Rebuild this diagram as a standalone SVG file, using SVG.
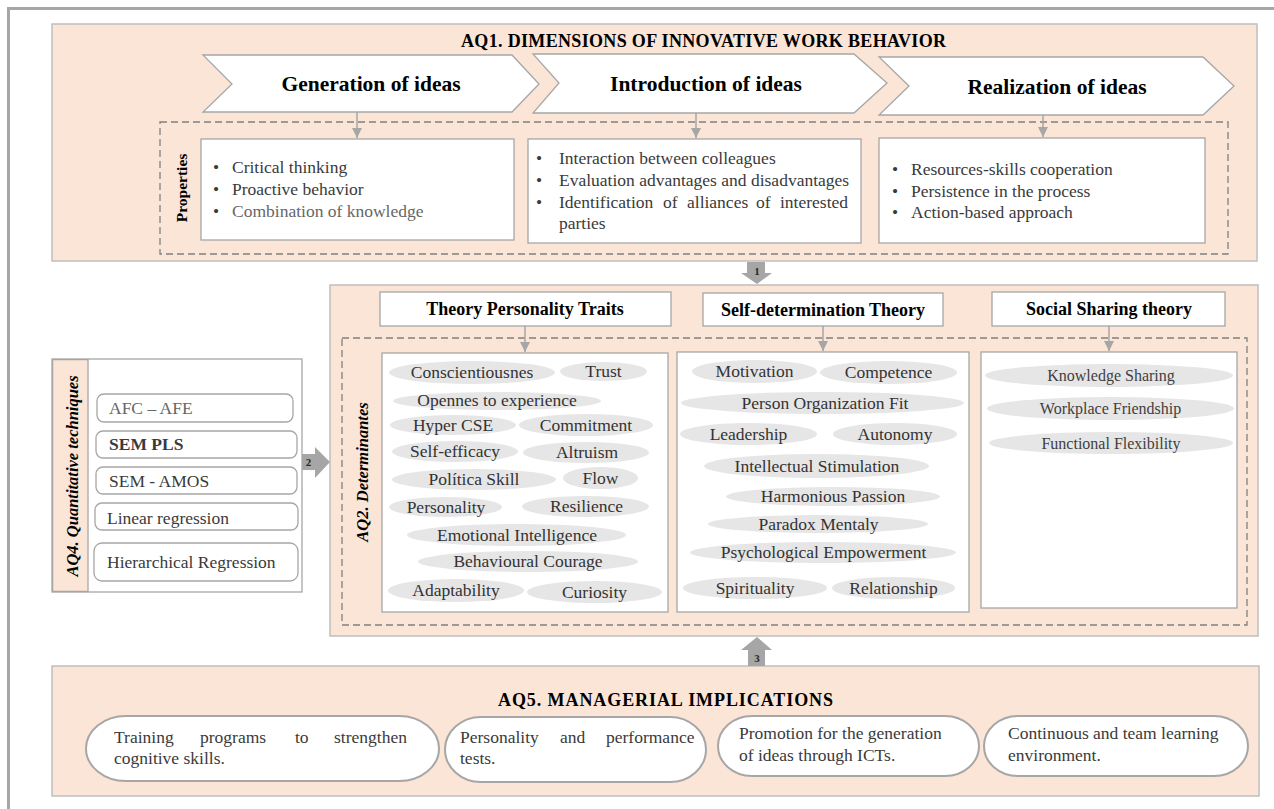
<svg xmlns="http://www.w3.org/2000/svg" width="1274" height="809" viewBox="0 0 1274 809">
<defs>
<style>
text{font-family:"Liberation Serif","Times New Roman",serif;}
.frame{stroke:#a6a6a6;stroke-width:3;fill:none}
.panel{fill:#fbe5d6;stroke:#bfbfbf;stroke-width:1.5}
.box{fill:#fff;stroke:#a6a6a6;stroke-width:1.3}
.dash{fill:none;stroke:#808080;stroke-width:1.3;stroke-dasharray:7 4}
.chev{fill:#fff;stroke:#a6a6a6;stroke-width:1.3}
.title{font-size:18px;font-weight:bold;fill:#000}
.chevt{font-size:21.5px;font-weight:bold;fill:#000;text-anchor:middle}
.body{font-size:17.5px;fill:#3a3a3a}
.light{fill:#666}
.pill{fill:#e7e6e6}
.pt{font-size:17.5px;fill:#333;text-anchor:middle}
.pts{font-size:16px;fill:#404040;text-anchor:middle}
.hdr{font-size:18px;font-weight:bold;fill:#000;text-anchor:middle}
.vt{font-size:16.5px;font-weight:bold;font-style:italic;fill:#000;text-anchor:middle}
.vp{font-size:15.5px;font-weight:bold;fill:#000;text-anchor:middle}
.item{fill:#fff;stroke:#a6a6a6;stroke-width:1.3}
.blk{fill:#a6a6a6}
.num{font-size:11px;font-weight:bold;fill:#262626;text-anchor:middle}
.conn{stroke:#a6a6a6;stroke-width:1.5;fill:none}
.imp{fill:#fff;stroke:#a6a6a6;stroke-width:2}
</style>
<marker id="ah" markerWidth="10" markerHeight="10" refX="10" refY="5" orient="auto" markerUnits="userSpaceOnUse"><path d="M0,0 L10,5 L0,10 z" fill="#a6a6a6"/></marker>
</defs>

<g id="frame">
<path class="frame" d="M8.5,809 V8.5 H1274"/>
</g>

<g id="aq1">
<rect class="panel" x="52" y="24" width="1205" height="237"/>
<text class="title" x="461" y="47" textLength="485" lengthAdjust="spacing">AQ1. DIMENSIONS OF INNOVATIVE WORK BEHAVIOR</text>
<rect class="dash" x="160" y="122" width="1068" height="132"/>
<text class="vp" transform="translate(187,188) rotate(-90)">Properties</text>
</g>

<g id="chev-generation">
<polygon class="chev" points="203,55 512,55 539,84 512,112 203,112 232,84"/>
<text class="chevt" x="371" y="91">Generation of ideas</text>
</g>
<g id="chev-introduction">
<polygon class="chev" points="533,54 854,54 887,83 854,113 533,113 559,83"/>
<text class="chevt" x="706" y="91">Introduction of ideas</text>
</g>
<g id="chev-realization">
<polygon class="chev" points="879,57 1203,57 1234,86 1203,115 879,115 909,86"/>
<text class="chevt" x="1057" y="94">Realization of ideas</text>
</g>

<g id="prop-generation">
<rect class="box" x="201" y="139" width="313" height="101"/>
<text class="body">
<tspan x="213" y="173">•</tspan><tspan x="232" y="173">Critical thinking</tspan>
<tspan x="213" y="195">•</tspan><tspan x="232" y="195">Proactive behavior</tspan>
<tspan x="213" y="217">•</tspan><tspan x="232" y="217" class="light">Combination of knowledge</tspan>
</text>
</g>
<g id="prop-introduction">
<rect class="box" x="528" y="139" width="333" height="104"/>
<text class="body">
<tspan x="536" y="164">•</tspan><tspan x="559" y="164">Interaction between colleagues</tspan>
<tspan x="536" y="186">•</tspan><tspan x="559" y="186">Evaluation advantages and disadvantages</tspan>
<tspan x="536" y="207.5">•</tspan><tspan x="559" y="207.5">Identification</tspan><tspan x="663" y="207.5">of</tspan><tspan x="687" y="207.5">alliances</tspan><tspan x="756" y="207.5">of</tspan><tspan x="780" y="207.5">interested</tspan>
<tspan x="559" y="229">parties</tspan>
</text>
</g>
<g id="prop-realization">
<rect class="box" x="879" y="138" width="326" height="105"/>
<text class="body">
<tspan x="892" y="175">•</tspan><tspan x="911" y="175">Resources-skills cooperation</tspan>
<tspan x="892" y="197">•</tspan><tspan x="911" y="197">Persistence in the process</tspan>
<tspan x="892" y="218">•</tspan><tspan x="911" y="218">Action-based approach</tspan>
</text>
</g>

<g id="aq2">
<rect class="panel" x="330" y="285" width="928" height="351"/>
<rect class="dash" x="342" y="338" width="905" height="287"/>
<text class="vt" transform="translate(368,472) rotate(-90)">AQ2. Determinantes</text>
</g>

<g id="hdr-personality">
<rect class="box" x="380" y="292" width="291" height="34"/>
<text class="hdr" x="525" y="315">Theory Personality Traits</text>
</g>
<g id="hdr-selfdetermination">
<rect class="box" x="703" y="293" width="240" height="33"/>
<text class="hdr" x="823" y="316">Self-determination Theory</text>
</g>
<g id="hdr-social">
<rect class="box" x="992" y="292" width="233" height="34"/>
<text class="hdr" x="1109" y="315">Social Sharing theory</text>
</g>

<g id="det-personality">
<rect class="box" x="382" y="353" width="286" height="259"/>
<ellipse class="pill" cx="472" cy="372.5" rx="83" ry="11.5"/><text class="pt" x="472" y="378">Conscientiousnes</text>
<ellipse class="pill" cx="603.5" cy="371.5" rx="43.5" ry="9.5"/><text class="pt" x="603.5" y="377">Trust</text>
<ellipse class="pill" cx="497" cy="401" rx="104" ry="9"/><text class="pt" x="497" y="406">Opennes to experience</text>
<ellipse class="pill" cx="453" cy="425" rx="63" ry="10"/><text class="pt" x="453" y="430.5">Hyper CSE</text>
<ellipse class="pill" cx="586" cy="425" rx="67" ry="11"/><text class="pt" x="586" y="430.5">Commitment</text>
<ellipse class="pill" cx="455" cy="451.5" rx="63" ry="10.5"/><text class="pt" x="455" y="457">Self-efficacy</text>
<ellipse class="pill" cx="586" cy="452.5" rx="63" ry="10.5"/><text class="pt" x="587" y="458">Altruism</text>
<ellipse class="pill" cx="474" cy="479.5" rx="82" ry="10.5"/><text class="pt" x="474" y="485">Política Skill</text>
<ellipse class="pill" cx="600.5" cy="478" rx="37.5" ry="11"/><text class="pt" x="600.5" y="483.5">Flow</text>
<ellipse class="pill" cx="445.5" cy="507" rx="56.5" ry="10"/><text class="pt" x="446" y="512.5">Personality</text>
<ellipse class="pill" cx="585.5" cy="506.5" rx="63.5" ry="10.5"/><text class="pt" x="586.5" y="512">Resilience</text>
<ellipse class="pill" cx="516.5" cy="535" rx="109.5" ry="11"/><text class="pt" x="517" y="540.5">Emotional Intelligence</text>
<ellipse class="pill" cx="528" cy="561.5" rx="110" ry="10.5"/><text class="pt" x="528" y="567">Behavioural Courage</text>
<ellipse class="pill" cx="456" cy="590.5" rx="68" ry="11.5"/><text class="pt" x="456" y="596">Adaptability</text>
<ellipse class="pill" cx="594.5" cy="592" rx="67.5" ry="11"/><text class="pt" x="594.5" y="597.5">Curiosity</text>
</g>

<g id="det-selfdetermination">
<rect class="box" x="677" y="352" width="292" height="260"/>
<ellipse class="pill" cx="754.5" cy="371.5" rx="62.5" ry="11.5"/><text class="pt" x="754.5" y="377">Motivation</text>
<ellipse class="pill" cx="888.5" cy="372.5" rx="68.5" ry="11.5"/><text class="pt" x="888.5" y="378">Competence</text>
<ellipse class="pill" cx="822.5" cy="403" rx="141.5" ry="11"/><text class="pt" x="825" y="408.5">Person Organization Fit</text>
<ellipse class="pill" cx="748.5" cy="434" rx="68.5" ry="11"/><text class="pt" x="748.5" y="439.5">Leadership</text>
<ellipse class="pill" cx="895" cy="434" rx="62" ry="11"/><text class="pt" x="895" y="439.5">Autonomy</text>
<ellipse class="pill" cx="816.5" cy="466" rx="112.5" ry="12"/><text class="pt" x="817" y="471.5">Intellectual Stimulation</text>
<ellipse class="pill" cx="833" cy="496.5" rx="107" ry="9.5"/><text class="pt" x="833" y="502">Harmonious Passion</text>
<ellipse class="pill" cx="818" cy="524" rx="110" ry="9"/><text class="pt" x="818.5" y="529.5">Paradox Mentaly</text>
<ellipse class="pill" cx="823" cy="552.5" rx="133" ry="10.5"/><text class="pt" x="823.5" y="558">Psychological Empowerment</text>
<ellipse class="pill" cx="755" cy="588" rx="72" ry="11"/><text class="pt" x="755" y="593.5">Spirituality</text>
<ellipse class="pill" cx="893.5" cy="588" rx="61.5" ry="11"/><text class="pt" x="893.5" y="593.5">Relationship</text>
</g>

<g id="det-social">
<rect class="box" x="981" y="352" width="256" height="256"/>
<ellipse class="pill" cx="1109" cy="375.5" rx="124" ry="11.5"/><text class="pts" x="1111" y="381">Knowledge Sharing</text>
<ellipse class="pill" cx="1110.5" cy="408.5" rx="123.5" ry="11.5"/><text class="pts" x="1110.5" y="414">Workplace Friendship</text>
<ellipse class="pill" cx="1111" cy="443" rx="122" ry="11"/><text class="pts" x="1111" y="448.5">Functional Flexibility</text>
</g>

<g id="aq4">
<rect class="box" x="52" y="359" width="250" height="233"/>
<rect x="52.6" y="359.6" width="35.4" height="231.8" fill="#fbe5d6" stroke="#a6a6a6" stroke-width="1.3"/>
<text class="vt" transform="translate(78,476) rotate(-90)">AQ4. Quantitative techniques</text>
<rect class="item" x="97" y="394" width="196" height="28" rx="7"/>
<text class="body light" x="109" y="414">AFC – AFE</text>
<rect class="item" x="96" y="431" width="201" height="27" rx="7"/>
<text class="body" x="109" y="450" font-weight="bold" fill="#000">SEM PLS</text>
<rect class="item" x="96" y="467" width="201" height="27" rx="7"/>
<text class="body" x="109" y="487">SEM - AMOS</text>
<rect class="item" x="95" y="503" width="203" height="27" rx="7"/>
<text class="body" x="107" y="524">Linear regression</text>
<rect class="item" x="94" y="543" width="204" height="38" rx="8"/>
<text class="body" x="107" y="568">Hierarchical Regression</text>
</g>

<g id="aq5">
<rect class="panel" x="52" y="666" width="1207" height="130"/>
<text class="title" x="498" y="706" textLength="335" lengthAdjust="spacing">AQ5. MANAGERIAL IMPLICATIONS</text>
</g>
<g id="imp-training">
<rect class="imp" x="86" y="716" width="353" height="65" rx="40" ry="32.5"/>
<text class="body"><tspan x="114" y="743">Training</tspan><tspan x="200" y="743">programs</tspan><tspan x="295" y="743">to</tspan><tspan x="334" y="743">strengthen</tspan><tspan x="114" y="764">cognitive skills.</tspan></text>
</g>
<g id="imp-personality">
<rect class="imp" x="445" y="717" width="261" height="65" rx="36" ry="32.5"/>
<text class="body"><tspan x="460" y="743">Personality</tspan><tspan x="560" y="743">and</tspan><tspan x="606" y="743">performance</tspan><tspan x="460" y="764">tests.</tspan></text>
</g>
<g id="imp-promotion">
<rect class="imp" x="718" y="716" width="261" height="60" rx="34" ry="30"/>
<text class="body"><tspan x="739" y="739">Promotion for the generation</tspan><tspan x="739" y="761">of ideas through ICTs.</tspan></text>
</g>
<g id="imp-continuous">
<rect class="imp" x="984" y="716" width="264" height="60" rx="34" ry="30"/>
<text class="body"><tspan x="1008" y="739">Continuous and team learning</tspan><tspan x="1008" y="761">environment.</tspan></text>
</g>

<g id="connectors">
<path class="conn" d="M357,112 V138" marker-end="url(#ah)"/>
<path class="conn" d="M696,113 V138" marker-end="url(#ah)"/>
<path class="conn" d="M1043,115 V137" marker-end="url(#ah)"/>
<path class="conn" d="M525,326 V352" marker-end="url(#ah)"/>
<path class="conn" d="M823,326 V351" marker-end="url(#ah)"/>
<path class="conn" d="M1109,326 V351" marker-end="url(#ah)"/>
<polygon class="blk" points="747,262 765,262 765,273 772,273 757,284 741,273 747,273"/>
<text class="num" x="757" y="275">1</text>
<polygon class="blk" points="302,454 315,454 315,447 330,462 315,478 315,470 302,470"/>
<text class="num" x="308.5" y="466">2</text>
<polygon class="blk" points="757,637 772,650 765,650 765,666 748,666 748,650 741,650"/>
<text class="num" x="757" y="662">3</text>
</g>
</svg>
